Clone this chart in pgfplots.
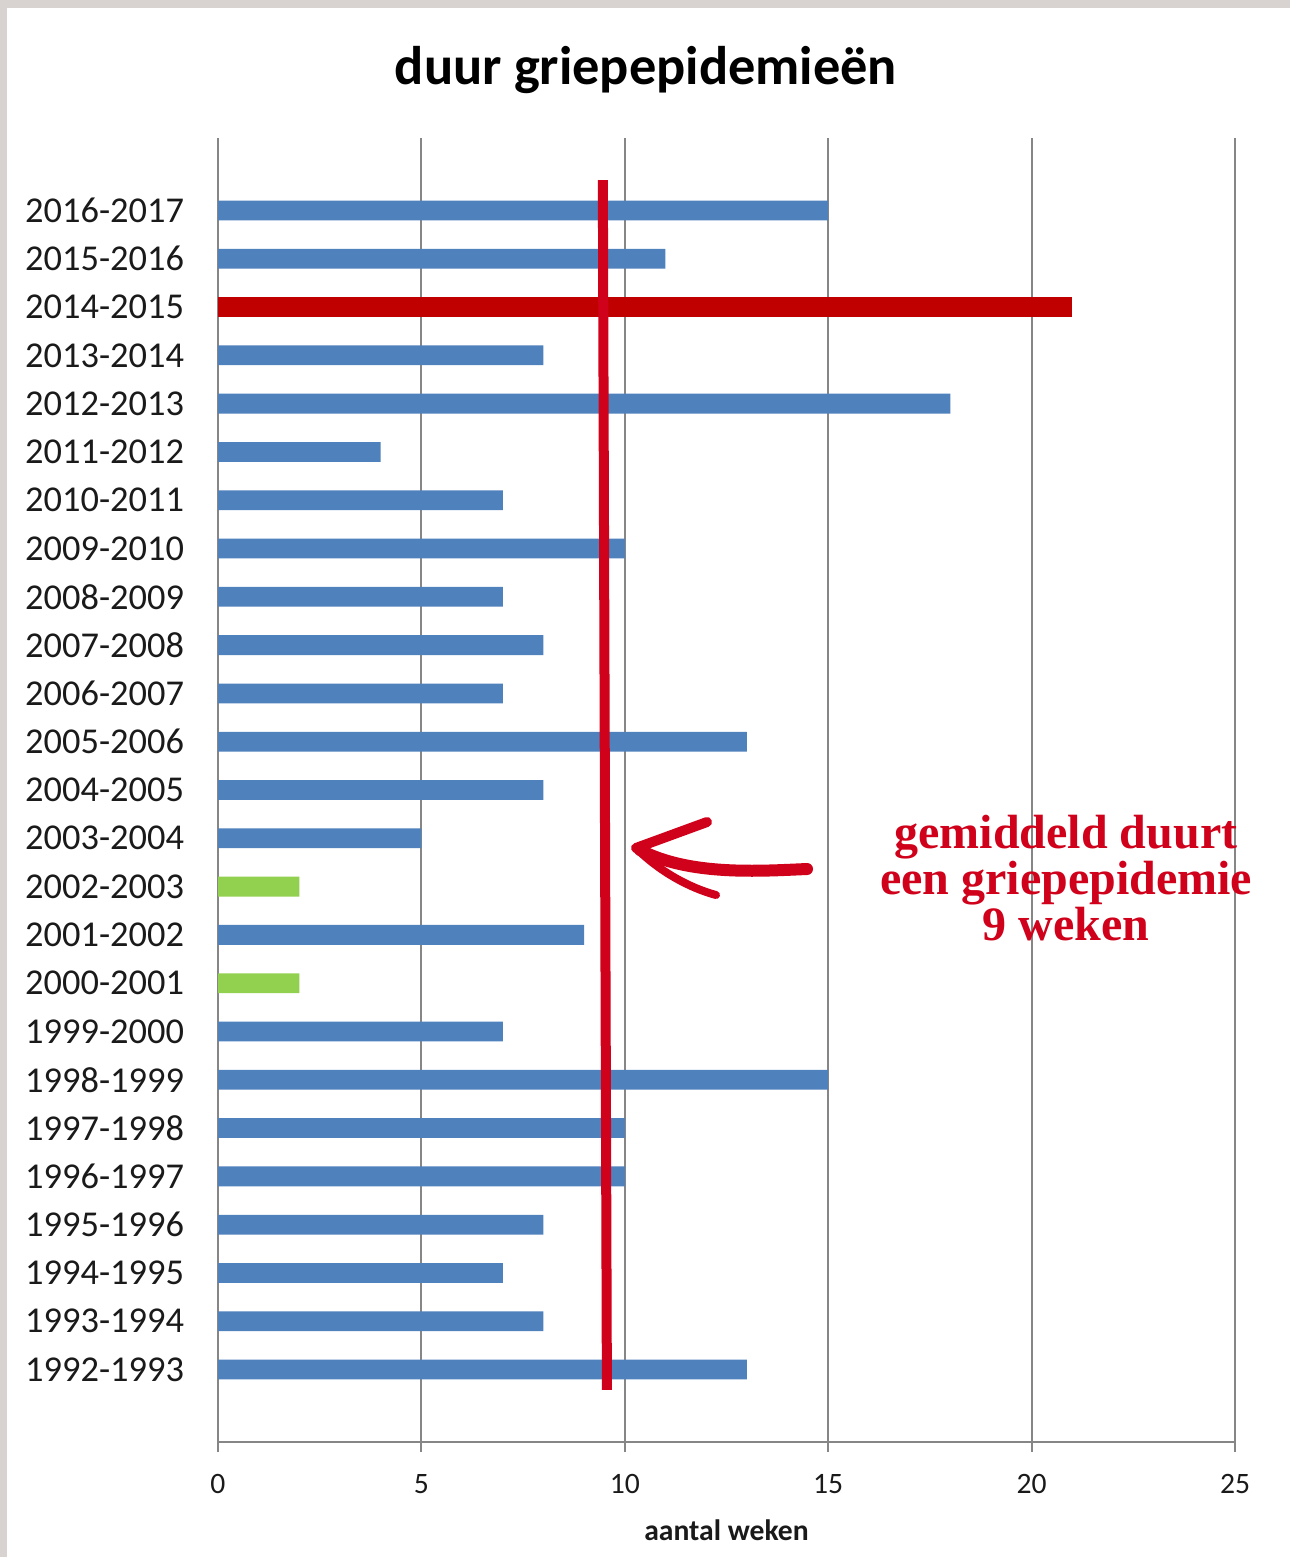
\documentclass[border=0pt]{standalone}
\usepackage{fontspec}
\setmainfont{Carlito}
\newfontfamily\serifred{Liberation Serif}
\usepackage{pgfplots}
\pgfplotsset{compat=1.18}
\definecolor{barblue}{RGB}{79,129,189}
\definecolor{barred}{RGB}{192,0,0}
\definecolor{bargreen}{RGB}{146,208,80}
\definecolor{annred}{RGB}{208,2,27}
\definecolor{gridgray}{RGB}{134,134,134}
\definecolor{framegray}{RGB}{216,211,209}
\definecolor{txt}{RGB}{26,26,26}
\begin{document}
\begin{tikzpicture}
\begin{scope}[x=0.5pt,y=-0.5pt]
\fill[white] (0,0) rectangle (1290,1557);
\fill[framegray] (0,0) rectangle (1290,8);
\fill[framegray] (0,0) rectangle (7,1557);
\node[font=\fontsize{27.2}{31}\selectfont\bfseries, text=black] at (646,70) {duur griepepidemieën};
\end{scope}
\begin{axis}[
  at={(109pt,-721pt)}, anchor=south west,
  scale only axis, width=508.5pt, height=652pt,
  xmin=0, xmax=25, ymin=-1.5, ymax=25.5,
  xtick={0,5,10,15,20,25}, ytick={0,1,...,24},
  yticklabels={1992-1993,1993-1994,1994-1995,1995-1996,1996-1997,1997-1998,1998-1999,1999-2000,2000-2001,2001-2002,2002-2003,2003-2004,2004-2005,2005-2006,2006-2007,2007-2008,2008-2009,2009-2010,2010-2011,2011-2012,2012-2013,2013-2014,2014-2015,2015-2016,2016-2017},
  xbar, bar width=0.41, bar shift=0pt,
  axis x line*=bottom, axis y line*=left,
  axis line style={gridgray, line width=1pt, -},
  xmajorgrids, major grid style={gridgray, line width=1pt},
  xtick style={gridgray, line width=1pt},
  xtick align=outside, major tick length=5pt,
  ytick style={draw=none},
  yticklabel style={font=\fontsize{18.2}{20}\selectfont, text=txt, xshift=-8.5pt},
  xticklabel style={font=\fontsize{14.8}{17}\selectfont, text=txt, yshift=-7.5pt},
  /pgf/number format/assume math mode=true,
  xlabel={aantal weken},
  xlabel style={font=\fontsize{14.8}{17}\selectfont\bfseries, text=txt, at={(axis description cs:0.5,-0.0675)}, anchor=center},
  clip=false,
]
\addplot[fill=barblue, draw=none] coordinates {
(13,0) (8,1) (7,2) (8,3) (10,4) (10,5) (15,6) (7,7) (9,9) (5,11) (8,12) (13,13) (7,14) (8,15) (7,16) (10,17) (7,18) (4,19) (18,20) (8,21) (11,23) (15,24)};
\addplot[fill=bargreen, draw=none] coordinates {(2,8) (2,10)};
\addplot[fill=barred, draw=none] coordinates {(21,22)};
\addplot[sharp plot, no marks, annred, line width=5pt] coordinates {(9.46,24.63) (9.56,-0.42)};
\end{axis}
\begin{scope}[x=0.5pt,y=-0.5pt]
\draw[annred, line width=6pt, line cap=round] (807,869) .. controls (760,871) and (690,876) .. (640,850);
\draw[annred, line width=5pt, line cap=round] (636,848) -- (707,822);
\draw[annred, line width=4pt, line cap=round] (636,848) .. controls (660,872) and (690,888) .. (716,895);
\node[font=\serifred\bfseries\fontsize{24}{21.5}\selectfont, text=annred, align=center] at (1066,878) {gemiddeld duurt\\een griepepidemie\\9 weken};
\end{scope}
\end{tikzpicture}
\end{document}
